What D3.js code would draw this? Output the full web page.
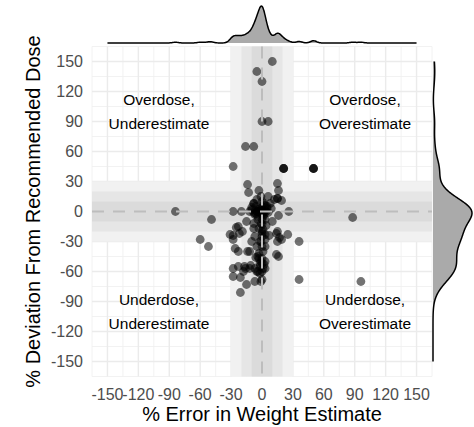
<!DOCTYPE html>
<html>
<head>
<meta charset="utf-8">
<script src="https://cdn.jsdelivr.net/npm/d3@7"></script>
<style>
  body { margin: 0; background: #fff; }
  text { font-family: "Liberation Sans", Arial, sans-serif; }
</style>
</head>
<body>
<script>
// % error in weight estimate (x) and % deviation from recommended dose (y), one entry per child
var weightError = [
  10, -5, 0, 0, 6, -16, -8, -28, 21, 21, 21, 50, 50, 50,
  -14, -13, -3, 15, 16, 6, 15, 15, 19, -8, -8, 8, 3,
  -84, -28, -20, -12, -5, -5, 0, 0, 0, 4, 26, 16, 88, -49,
  -4, 3, -8, 0, -23, -25, -19, -22, -31, -28, -28, -8, -7, 0, 3, 7, 14, 15, 25, 17, 15, 19,
  -60, -52, 36, -26, -23, -14, -12, 3, 16, 14, -6, -4, -2, 3, -3, -11,
  -28, -23, -17, -16, -7, 3, -28, -21, -15, -21, -7, -1, 0, 96, 36,
  -2, -5, 0, -10, 0, -2, 2, -10, -7, 5, 0, -3, 0, -15, 10, 12, -5,
  -2, 0, -12, -18,
  0, 0, -1, 1, 0, -1, 0, 1, -1, 0, 1, -2, -4, -3, 2, -1, 3, -5, -3, 2, -4, 1, -6, 4,
  -10, -6, -3, 3, 6, 9, -1, 1, -8, 5
];
var doseDeviation = [
  150, 140, 130, 90, 90, 65, 65, 45, 43, 43, 43, 43, 43, 43,
  27, 19, 21, 28, 21, 15, 13, 13, 11, 8, 8, 8, 6,
  0, 0, 0, 0, 0, 0, 0, 0, 0, 0, 0, -4, -6, -8,
  -5, -8, -12, -13, -15, -16, -20, -22, -23, -24, -28, -17, -25, -20, -23, -24, -22, -20, -23, -26, -30, -28,
  -28, -35, -30, -37, -40, -40, -40, -35, -45, -43, -46, -45, -52, -50, -47, -54,
  -57, -55, -55, -57, -57, -57, -65, -66, -73, -81, -70, -70, -68, -70, -68,
  -30, -60, -60, -30, 10, 3, -3, 2, -3, 3, -8, -17, -25, -10, -10, 12, 12,
  -55, -47, -57, -60,
  5, -3, -12, -18, -22, -30, -35, -40, -50, -52, -57, -62, -8, 2, 8, 15, -28, -35, -42, -53, -60, -5, 5, -14,
  4, -2, 0, 1, -1, 3, 1, -1, -1, 5
];

var tickValues = [-150, -120, -90, -60, -30, 0, 30, 60, 90, 120, 150];
var tickLabels = ["-150", "-120", "-90", "-60", "-30", "0", "30", "60", "90", "120", "150"];
var minorValues = [-165, -135, -105, -75, -45, -15, 15, 45, 75, 105, 135, 165];
var bandHalfWidths = [30, 20, 10];
var bandFills = ["#f1f1f1", "#e6e6e6", "#dbdbdb"];
var quadrantText = [["Overdose,", "Underestimate"], ["Overdose,", "Overestimate"],
                    ["Underdose,", "Underestimate"], ["Underdose,", "Overestimate"]];
var quadrantX = [-100, 100, -100, 100];
var quadrantY = [100, 100, -100, -100];

var width = 474;
var height = 427;

var svg = d3.select("body").append("svg")
  .attr("width", width)
  .attr("height", height);

var x = d3.scaleLinear().domain([-165, 165]).range([92, 432]);
var y = d3.scaleLinear().domain([-165, 165]).range([376.5, 46.5]);

var panel = svg.append("g");

// grid
panel.selectAll(".minx").data(minorValues).enter().append("line")
  .attr("x1", d => x(d)).attr("x2", d => x(d))
  .attr("y1", y(-165)).attr("y2", y(165))
  .attr("stroke", "#efefef").attr("stroke-width", 0.8);
panel.selectAll(".miny").data(minorValues).enter().append("line")
  .attr("y1", d => y(d)).attr("y2", d => y(d))
  .attr("x1", x(-165)).attr("x2", x(165))
  .attr("stroke", "#efefef").attr("stroke-width", 0.8);
panel.selectAll(".majx").data(tickValues).enter().append("line")
  .attr("x1", d => x(d)).attr("x2", d => x(d))
  .attr("y1", y(-165)).attr("y2", y(165))
  .attr("stroke", "#ebebeb").attr("stroke-width", 1.4);
panel.selectAll(".majy").data(tickValues).enter().append("line")
  .attr("y1", d => y(d)).attr("y2", d => y(d))
  .attr("x1", x(-165)).attr("x2", x(165))
  .attr("stroke", "#ebebeb").attr("stroke-width", 1.4);

// tolerance bands
bandHalfWidths.forEach(function(w, i){
  panel.append("rect")
    .attr("x", x(-w)).attr("width", x(w) - x(-w))
    .attr("y", y(165)).attr("height", y(-165) - y(165))
    .attr("fill", bandFills[i]);
  panel.append("rect")
    .attr("x", x(-165)).attr("width", x(165) - x(-165))
    .attr("y", y(w)).attr("height", y(-w) - y(w))
    .attr("fill", bandFills[i]);
});

// points
var pts = weightError.map((d, i) => [d, doseDeviation[i]]);
panel.selectAll("circle").data(pts).enter().append("circle")
  .attr("cx", d => x(d[0]))
  .attr("cy", d => y(d[1]))
  .attr("r", 4.4)
  .attr("fill", "#000")
  .attr("fill-opacity", 0.55);

// dashed zero lines
panel.append("line")
  .attr("x1", x(0)).attr("x2", x(0)).attr("y1", y(165)).attr("y2", y(-165))
  .attr("stroke", "#bdbdbd").attr("stroke-width", 2).attr("stroke-dasharray", "12,9");
panel.append("line")
  .attr("y1", y(0)).attr("y2", y(0)).attr("x1", x(-165)).attr("x2", x(165))
  .attr("stroke", "#bdbdbd").attr("stroke-width", 2).attr("stroke-dasharray", "12,9");

// quadrant labels
quadrantText.forEach(function(lines, i){
  var t = svg.append("text")
    .attr("x", x(quadrantX[i]))
    .attr("y", y(quadrantY[i]))
    .attr("text-anchor", "middle")
    .attr("font-size", 15.5)
    .attr("fill", "#000");
  t.append("tspan").attr("x", x(quadrantX[i])).attr("dy", "-0.4em").text(lines[0]);
  t.append("tspan").attr("x", x(quadrantX[i])).attr("dy", "1.5em").text(lines[1]);
});

// axes
svg.selectAll(".xtick").data(tickValues).enter().append("text")
  .attr("x", d => x(d)).attr("y", 400)
  .attr("text-anchor", "middle").attr("font-size", 16).attr("fill", "#4d4d4d")
  .text((d, i) => tickLabels[i]);
svg.selectAll(".ytick").data(tickValues).enter().append("text")
  .attr("x", 83).attr("y", d => y(d)).attr("dy", "0.36em")
  .attr("text-anchor", "end").attr("font-size", 16).attr("fill", "#4d4d4d")
  .text((d, i) => tickLabels[i]);

svg.append("text")
  .attr("x", x(0)).attr("y", 421)
  .attr("text-anchor", "middle").attr("font-size", 20).attr("fill", "#000")
  .text("% Error in Weight Estimate");
svg.append("text")
  .attr("transform", "translate(40," + y(0) + ") rotate(-90)")
  .attr("text-anchor", "middle").attr("font-size", 20).attr("fill", "#000")
  .text("% Deviation From Recommended Dose");

// marginal densities (gaussian kernel, bw.nrd0)
function bwNrd0(v){
  var s = v.slice().sort(d3.ascending);
  var iqr = d3.quantile(s, 0.75) - d3.quantile(s, 0.25);
  var lo = Math.min(d3.deviation(s), iqr / 1.34);
  return 0.9 * lo * Math.pow(s.length, -0.2);
}
function kde(v){
  var bw = bwNrd0(v);
  var grid = d3.range(-150, 150.01, 0.6);
  return grid.map(function(g){
    var s = d3.sum(v, d => Math.exp(-0.5 * Math.pow((g - d) / bw, 2)));
    return [g, s / (v.length * bw * Math.sqrt(2 * Math.PI))];
  });
}

var densX = kde(weightError);
var hx = d3.scaleLinear().domain([0, d3.max(densX, d => d[1])]).range([43, 6]);
svg.append("path")
  .datum(densX)
  .attr("d", d3.area().x(d => x(d[0])).y0(43).y1(d => hx(d[1])).curve(d3.curveBasis))
  .attr("fill", "#aaaaaa");
svg.append("path")
  .datum(densX)
  .attr("d", d3.line().x(d => x(d[0])).y(d => hx(d[1])).curve(d3.curveBasis))
  .attr("fill", "none").attr("stroke", "#000").attr("stroke-width", 1.5);

var densY = kde(doseDeviation);
var hy = d3.scaleLinear().domain([0, d3.max(densY, d => d[1])]).range([433, 472]);
svg.append("path")
  .datum(densY)
  .attr("d", d3.area().y(d => y(d[0])).x0(433).x1(d => hy(d[1])).curve(d3.curveBasis))
  .attr("fill", "#aaaaaa");
svg.append("path")
  .datum(densY)
  .attr("d", d3.line().y(d => y(d[0])).x(d => hy(d[1])).curve(d3.curveBasis))
  .attr("fill", "none").attr("stroke", "#000").attr("stroke-width", 1.5);
</script>
</body>
</html>
